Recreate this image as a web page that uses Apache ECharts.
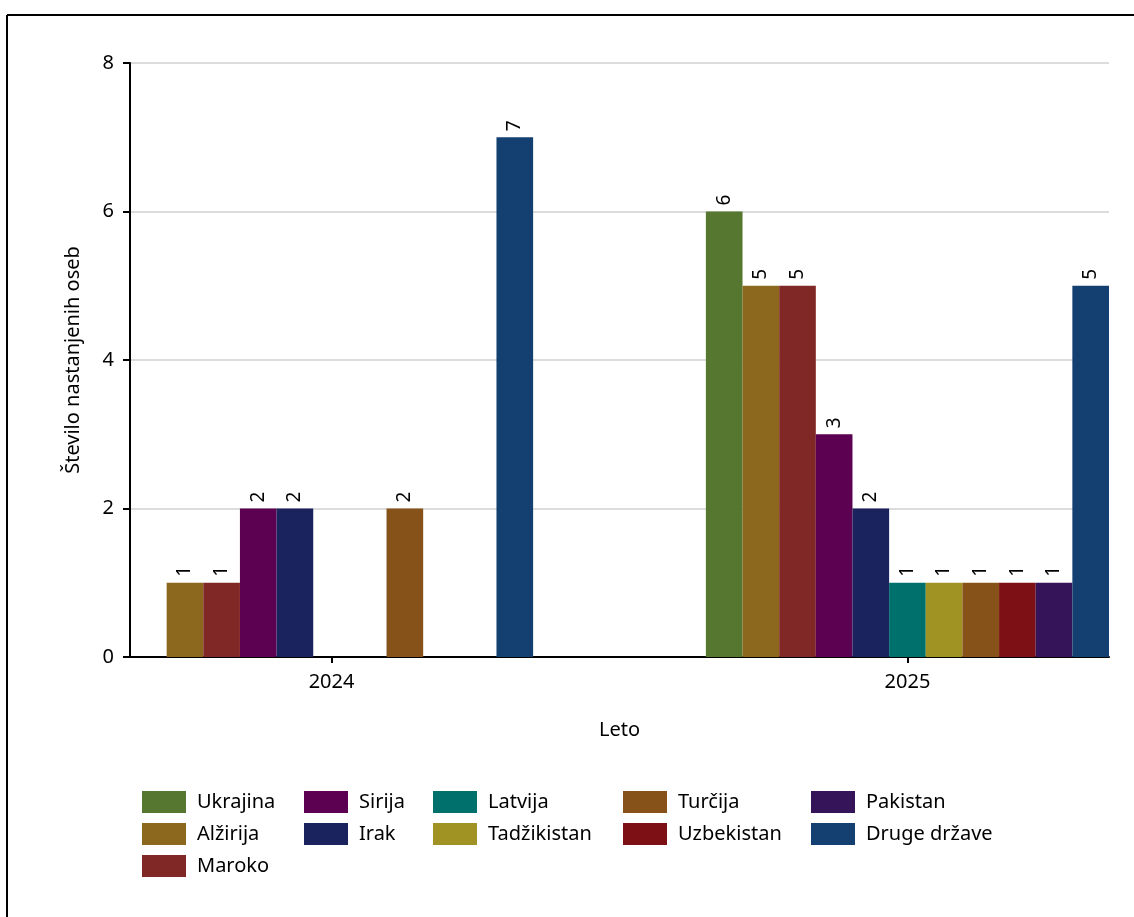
<!DOCTYPE html>
<html>
<head>
<meta charset="utf-8">
<script src="https://cdn.jsdelivr.net/npm/echarts@6/dist/echarts.min.js"></script>
<style>
html,body{margin:0;padding:0;background:#fff;}
#chart{width:1134px;height:917px;}
</style>
</head>
<body>
<div id="chart"></div>
<script>
// ---- data ----
const categories = ['2024', '2025'];
const seriesNames = ['Ukrajina', 'Alžirija', 'Maroko', 'Sirija', 'Irak', 'Latvija', 'Tadžikistan', 'Turčija', 'Uzbekistan', 'Pakistan', 'Druge države'];
const values2024 = [0, 1, 1, 2, 2, 0, 0, 2, 0, 0, 7];
const values2025 = [6, 5, 5, 3, 2, 1, 1, 1, 1, 1, 5];
const colors = ['#55772F', '#8B681E', '#802826', '#5C0052', '#1B235E', '#00706C', '#A09323', '#875219', '#7D1014', '#36145A', '#134070'];
const yTicks = [0, 2, 4, 6, 8];
const legendColumns = [[0, 1, 2], [3, 4], [5, 6], [7, 8], [9, 10]];

const FONT = 'Noto Sans';
const years = categories.map(Number);
const valuesByYear = [values2024, values2025];

const chart = echarts.init(document.getElementById('chart'), null, {renderer: 'canvas'});

const series = seriesNames.map((name, i) => ({
  name: name,
  type: 'bar',
  data: years.map((y, j) => [y, valuesByYear[j][i]]),
  itemStyle: {color: colors[i]},
  barGap: 0,
  barCategoryGap: '30%',
  label: {
    show: true,
    position: 'top',
    rotate: 90,
    align: 'left',
    verticalAlign: 'middle',
    distance: 6,
    color: '#000',
    fontFamily: FONT,
    fontSize: 19,
    formatter: p => (p.value[1] === 0 ? '' : String(p.value[1]))
  }
}));

const legendLeft = [142, 304, 433, 623, 811];
const legends = legendColumns.map((col, k) => ({
  orient: 'vertical',
  left: legendLeft[k],
  top: 791,
  padding: 0,
  itemWidth: 44,
  itemHeight: 22,
  itemGap: 10,
  icon: 'rect',
  selectedMode: false,
  textStyle: {fontFamily: FONT, fontSize: 20, color: '#000', padding: [0, 0, 0, 6]},
  data: col.map(i => seriesNames[i])
}));

chart.setOption({
  animation: false,
  backgroundColor: '#fff',
  textStyle: {fontFamily: FONT},
  grid: {left: 130, right: 25, top: 63, bottom: 260, containLabel: false},
  legend: legends,
  xAxis: {
    type: 'value',
    min: 2023.65,
    max: 2025.35,
    name: 'Leto',
    nameLocation: 'middle',
    nameGap: 63,
    nameTextStyle: {fontFamily: FONT, fontSize: 20, color: '#000'},
    axisLine: {show: true, lineStyle: {color: '#000', width: 2}},
    axisTick: {show: true, customValues: years, length: 6, lineStyle: {color: '#000', width: 2}},
    axisLabel: {customValues: years, formatter: v => String(v), fontFamily: FONT, fontSize: 20, color: '#000', margin: 15},
    splitLine: {show: false}
  },
  yAxis: {
    type: 'value',
    min: yTicks[0],
    max: yTicks[yTicks.length - 1],
    interval: 2,
    name: 'Število nastanjenih oseb',
    nameLocation: 'middle',
    nameGap: 47,
    nameTextStyle: {fontFamily: FONT, fontSize: 20, color: '#000'},
    axisLine: {show: true, lineStyle: {color: '#000', width: 2}},
    axisTick: {show: true, length: 7, lineStyle: {color: '#000', width: 2}},
    axisLabel: {fontFamily: FONT, fontSize: 20, color: '#000', margin: 16},
    splitLine: {show: true, lineStyle: {color: '#dcdcdc', width: 2}}
  },
  graphic: [
    {type: 'line', shape: {x1: 7, y1: 15, x2: 1134, y2: 15}, style: {stroke: '#000', lineWidth: 2}, silent: true},
    {type: 'line', shape: {x1: 7, y1: 15, x2: 7, y2: 917}, style: {stroke: '#000', lineWidth: 2}, silent: true}
  ],
  series: series
});
</script>
</body>
</html>
